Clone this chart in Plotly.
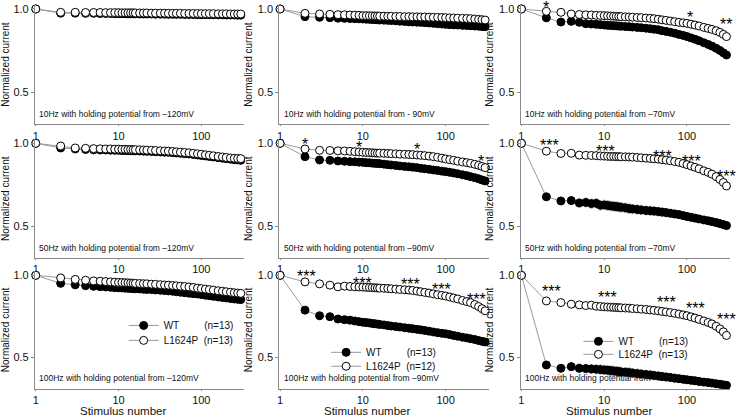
import math
import plotly.graph_objects as go

# ---------------- data ----------------
stimulus = [1, 2, 3, 4, 5, 6, 7, 8, 9, 10, 11, 12, 13, 14, 15, 16, 18, 20, 22, 25, 28, 32, 36, 40,
            45, 50, 56, 63, 71, 80, 90, 100, 112, 125, 140, 160, 180, 200, 225, 250, 275, 300]

panel_titles = [
    "10Hz with holding potential from \u2013120mV",
    "10Hz with holding potential from - 90mV",
    "10Hz with holding potential from \u201370mV",
    "50Hz with holding potential from \u2013120mV",
    "50Hz with holding potential from \u201390mV",
    "50Hz with holding potential from \u201370mV",
    "100Hz with holding potential from \u2013120mV",
    "100Hz with holding potential from \u201390mV",
    "100Hz with holding potential from \u201370mV",
]

wt_10_120 = [1.00, 0.975, 0.975, 0.974, 0.974, 0.973, 0.973, 0.973, 0.972, 0.972, 0.972, 0.972, 0.971, 0.971, 0.971, 0.971, 0.970, 0.970, 0.970, 0.970, 0.969, 0.969, 0.969, 0.968, 0.968, 0.968, 0.968, 0.967, 0.967, 0.967, 0.966, 0.966, 0.966, 0.966, 0.965, 0.965, 0.965, 0.964, 0.964, 0.964, 0.963, 0.963]
mu_10_120 = [1.00, 0.980, 0.980, 0.979, 0.979, 0.979, 0.978, 0.978, 0.978, 0.978, 0.977, 0.977, 0.977, 0.977, 0.977, 0.976, 0.976, 0.976, 0.976, 0.975, 0.975, 0.975, 0.975, 0.974, 0.974, 0.974, 0.974, 0.973, 0.973, 0.973, 0.973, 0.972, 0.972, 0.972, 0.972, 0.971, 0.971, 0.971, 0.970, 0.970, 0.970, 0.970]

wt_10_90 = [1.00, 0.954, 0.950, 0.948, 0.945, 0.944, 0.943, 0.942, 0.941, 0.940, 0.939, 0.938, 0.937, 0.936, 0.935, 0.934, 0.933, 0.932, 0.931, 0.929, 0.927, 0.925, 0.923, 0.922, 0.921, 0.920, 0.918, 0.916, 0.914, 0.912, 0.910, 0.908, 0.906, 0.905, 0.904, 0.902, 0.901, 0.900, 0.898, 0.897, 0.895, 0.894]
mu_10_90 = [1.00, 0.974, 0.970, 0.968, 0.966, 0.965, 0.964, 0.963, 0.962, 0.960, 0.960, 0.959, 0.959, 0.958, 0.958, 0.957, 0.957, 0.956, 0.956, 0.955, 0.955, 0.954, 0.954, 0.953, 0.953, 0.952, 0.952, 0.951, 0.950, 0.950, 0.949, 0.948, 0.947, 0.946, 0.945, 0.944, 0.943, 0.942, 0.940, 0.938, 0.936, 0.934]

wt_10_70 = [1.00, 0.947, 0.922, 0.926, 0.920, 0.912, 0.910, 0.908, 0.906, 0.904, 0.902, 0.901, 0.900, 0.899, 0.898, 0.897, 0.895, 0.894, 0.892, 0.890, 0.888, 0.885, 0.882, 0.879, 0.876, 0.870, 0.866, 0.861, 0.855, 0.848, 0.842, 0.835, 0.827, 0.819, 0.810, 0.798, 0.788, 0.778, 0.765, 0.752, 0.738, 0.725]
mu_10_70 = [1.00, 0.986, 0.980, 0.970, 0.967, 0.965, 0.964, 0.962, 0.961, 0.960, 0.959, 0.958, 0.957, 0.956, 0.955, 0.954, 0.953, 0.952, 0.951, 0.949, 0.948, 0.946, 0.944, 0.942, 0.939, 0.935, 0.932, 0.928, 0.924, 0.920, 0.917, 0.914, 0.909, 0.904, 0.898, 0.890, 0.884, 0.878, 0.870, 0.860, 0.848, 0.835]

wt_50_120 = [1.00, 0.972, 0.966, 0.963, 0.961, 0.960, 0.960, 0.959, 0.958, 0.958, 0.957, 0.957, 0.956, 0.956, 0.955, 0.955, 0.954, 0.953, 0.952, 0.951, 0.950, 0.948, 0.947, 0.946, 0.944, 0.942, 0.940, 0.938, 0.936, 0.933, 0.930, 0.927, 0.924, 0.921, 0.918, 0.914, 0.911, 0.908, 0.905, 0.902, 0.900, 0.898]
mu_50_120 = [1.00, 0.984, 0.972, 0.970, 0.968, 0.967, 0.966, 0.966, 0.965, 0.965, 0.964, 0.964, 0.963, 0.963, 0.962, 0.962, 0.961, 0.960, 0.959, 0.958, 0.957, 0.955, 0.954, 0.953, 0.951, 0.949, 0.947, 0.945, 0.943, 0.940, 0.937, 0.934, 0.931, 0.928, 0.925, 0.921, 0.918, 0.915, 0.912, 0.910, 0.909, 0.908]

wt_50_90 = [1.00, 0.920, 0.900, 0.898, 0.894, 0.892, 0.890, 0.889, 0.887, 0.886, 0.884, 0.883, 0.881, 0.880, 0.879, 0.878, 0.875, 0.872, 0.870, 0.867, 0.864, 0.861, 0.859, 0.857, 0.854, 0.850, 0.847, 0.844, 0.840, 0.837, 0.833, 0.830, 0.826, 0.822, 0.817, 0.811, 0.806, 0.800, 0.794, 0.787, 0.780, 0.774]
mu_50_90 = [1.00, 0.966, 0.958, 0.957, 0.955, 0.954, 0.952, 0.950, 0.948, 0.946, 0.945, 0.944, 0.943, 0.942, 0.941, 0.941, 0.940, 0.939, 0.938, 0.937, 0.935, 0.934, 0.933, 0.932, 0.930, 0.928, 0.926, 0.923, 0.920, 0.916, 0.911, 0.906, 0.902, 0.898, 0.893, 0.888, 0.884, 0.880, 0.874, 0.868, 0.861, 0.854]

wt_50_70 = [1.00, 0.679, 0.654, 0.656, 0.642, 0.645, 0.638, 0.640, 0.628, 0.630, 0.627, 0.624, 0.622, 0.620, 0.618, 0.616, 0.613, 0.608, 0.606, 0.603, 0.600, 0.597, 0.595, 0.593, 0.590, 0.587, 0.584, 0.580, 0.576, 0.572, 0.566, 0.561, 0.556, 0.551, 0.546, 0.540, 0.535, 0.530, 0.524, 0.518, 0.512, 0.506]
mu_50_70 = [1.00, 0.953, 0.939, 0.940, 0.929, 0.928, 0.927, 0.926, 0.924, 0.923, 0.922, 0.921, 0.921, 0.920, 0.920, 0.919, 0.919, 0.918, 0.917, 0.915, 0.913, 0.911, 0.909, 0.907, 0.905, 0.902, 0.899, 0.895, 0.891, 0.886, 0.879, 0.872, 0.864, 0.856, 0.847, 0.835, 0.826, 0.815, 0.800, 0.783, 0.765, 0.744]

wt_100_120 = [1.00, 0.951, 0.942, 0.937, 0.933, 0.931, 0.929, 0.927, 0.925, 0.924, 0.923, 0.922, 0.921, 0.920, 0.919, 0.918, 0.917, 0.915, 0.914, 0.913, 0.911, 0.909, 0.907, 0.905, 0.903, 0.900, 0.897, 0.894, 0.891, 0.888, 0.886, 0.883, 0.879, 0.876, 0.872, 0.868, 0.865, 0.862, 0.859, 0.856, 0.854, 0.852]
mu_100_120 = [1.00, 0.984, 0.975, 0.970, 0.966, 0.964, 0.962, 0.960, 0.958, 0.957, 0.956, 0.955, 0.954, 0.953, 0.952, 0.951, 0.950, 0.949, 0.948, 0.946, 0.945, 0.943, 0.941, 0.940, 0.938, 0.936, 0.934, 0.932, 0.929, 0.926, 0.922, 0.919, 0.916, 0.913, 0.910, 0.906, 0.903, 0.900, 0.897, 0.894, 0.892, 0.890]

wt_100_90 = [1.00, 0.788, 0.754, 0.748, 0.734, 0.730, 0.727, 0.722, 0.718, 0.714, 0.712, 0.710, 0.707, 0.705, 0.703, 0.701, 0.698, 0.694, 0.691, 0.688, 0.685, 0.681, 0.678, 0.675, 0.671, 0.668, 0.664, 0.660, 0.655, 0.651, 0.647, 0.644, 0.639, 0.634, 0.629, 0.623, 0.619, 0.614, 0.609, 0.603, 0.598, 0.594]
mu_100_90 = [1.00, 0.960, 0.948, 0.940, 0.930, 0.934, 0.932, 0.930, 0.929, 0.928, 0.927, 0.926, 0.925, 0.924, 0.923, 0.922, 0.921, 0.920, 0.918, 0.916, 0.914, 0.912, 0.910, 0.908, 0.904, 0.900, 0.896, 0.892, 0.887, 0.882, 0.878, 0.874, 0.868, 0.862, 0.856, 0.847, 0.840, 0.834, 0.822, 0.810, 0.797, 0.784]

wt_100_70 = [1.00, 0.454, 0.434, 0.444, 0.434, 0.432, 0.430, 0.428, 0.426, 0.424, 0.422, 0.420, 0.418, 0.416, 0.414, 0.412, 0.410, 0.408, 0.405, 0.402, 0.399, 0.396, 0.393, 0.390, 0.387, 0.384, 0.381, 0.378, 0.374, 0.371, 0.367, 0.364, 0.361, 0.358, 0.354, 0.350, 0.347, 0.344, 0.340, 0.337, 0.333, 0.330]
mu_100_70 = [1.00, 0.844, 0.834, 0.824, 0.820, 0.816, 0.818, 0.812, 0.810, 0.808, 0.807, 0.806, 0.805, 0.804, 0.803, 0.802, 0.801, 0.800, 0.798, 0.796, 0.794, 0.792, 0.789, 0.787, 0.784, 0.780, 0.777, 0.773, 0.769, 0.764, 0.759, 0.754, 0.747, 0.740, 0.732, 0.722, 0.713, 0.704, 0.690, 0.674, 0.656, 0.634]

# SEM estimates (three levels read from the error-bar spread)
sem_small = [0, 0.004, 0.004, 0.004, 0.005, 0.005, 0.005, 0.005, 0.005, 0.005, 0.005, 0.005, 0.006, 0.006, 0.006, 0.006, 0.006, 0.006, 0.006, 0.007, 0.007, 0.007, 0.007, 0.007, 0.007, 0.008, 0.008, 0.008, 0.008, 0.008, 0.009, 0.009, 0.009, 0.009, 0.010, 0.010, 0.010, 0.010, 0.011, 0.011, 0.011, 0.012]
sem_mid = [0, 0.006, 0.007, 0.007, 0.008, 0.008, 0.008, 0.009, 0.009, 0.009, 0.010, 0.010, 0.010, 0.010, 0.011, 0.011, 0.011, 0.012, 0.012, 0.012, 0.013, 0.013, 0.013, 0.014, 0.014, 0.014, 0.015, 0.015, 0.015, 0.016, 0.016, 0.016, 0.017, 0.017, 0.017, 0.018, 0.018, 0.018, 0.019, 0.019, 0.019, 0.020]
sem_large = [0, 0.018, 0.022, 0.024, 0.025, 0.026, 0.027, 0.027, 0.028, 0.028, 0.028, 0.028, 0.028, 0.028, 0.028, 0.028, 0.028, 0.028, 0.027, 0.027, 0.027, 0.026, 0.026, 0.026, 0.025, 0.025, 0.025, 0.024, 0.024, 0.024, 0.023, 0.023, 0.023, 0.022, 0.022, 0.022, 0.021, 0.021, 0.021, 0.020, 0.020, 0.020]

wt_series = [wt_10_120, wt_10_90, wt_10_70, wt_50_120, wt_50_90, wt_50_70, wt_100_120, wt_100_90, wt_100_70]
mu_series = [mu_10_120, mu_10_90, mu_10_70, mu_50_120, mu_50_90, mu_50_70, mu_100_120, mu_100_90, mu_100_70]
wt_sem = [sem_small, sem_small, sem_small, sem_small, sem_small, sem_large, sem_small, sem_small, sem_large]
mu_sem = [sem_small, sem_small, sem_mid, sem_small, sem_small, sem_mid, sem_small, sem_mid, sem_mid]

# legend n values for the bottom row
n_wt = ["13", "13", "13"]
n_mu = ["13", "12", "13"]

# significance marks: panel index, stimulus number, current level, label
sig_panel = [2, 2, 2, 4, 4, 4, 4, 5, 5, 5, 5, 5, 7, 7, 7, 7, 7, 8, 8, 8, 8, 8]
sig_stim = [2, 110, 295, 2, 9, 45, 270, 2.2, 10.5, 51, 112, 300, 2.1, 10, 38, 90, 235, 2.3, 11, 56, 128, 300]
sig_level = [0.996, 0.94, 0.893, 0.982, 0.962, 0.952, 0.88, 0.976, 0.94, 0.91, 0.88, 0.786,
             0.978, 0.935, 0.93, 0.9, 0.84, 0.887, 0.85, 0.82, 0.786, 0.72]
sig_text = ["*", "*", "**", "*", "*", "*", "*", "***", "***", "***", "***", "***",
            "***", "***", "***", "***", "***", "***", "***", "***", "***", "***"]

# ---------------- layout geometry ----------------
W, H = 740, 419
col_px = [(33, 243), (278, 488), (520, 730)]
row_px = [(2.8, 123), (137.8, 257.5), (270.5, 388.5)]

FONT = "Liberation Sans, Arial, Helvetica, sans-serif"
AX = "#8a8a8a"

fig = go.Figure()
layout = dict(
    width=W, height=H, margin=dict(l=0, r=0, t=0, b=0),
    paper_bgcolor="white", plot_bgcolor="white",
    font=dict(family=FONT, size=11, color="#111"),
    showlegend=True, hovermode=False,
)
annotations = []

for k in range(9):
    r, c = divmod(k, 3)
    sfx = "" if k == 0 else str(k + 1)
    xa, ya = "x" + sfx, "y" + sfx
    x0, x1 = col_px[c]
    y0, y1 = row_px[r]
    layout["xaxis" + sfx] = dict(
        type="log", range=[-0.01, 2.52], domain=[x0 / W, x1 / W], anchor=ya,
        tickvals=[1, 10, 100], ticktext=["1", "10", "100"],
        ticks="outside", ticklen=1, tickcolor=AX, showline=True, linecolor=AX,
        linewidth=1, showgrid=False, zeroline=False, tickfont=dict(size=11),
    )
    layout["yaxis" + sfx] = dict(
        range=[0.31, 1.025], domain=[1 - y1 / H, 1 - y0 / H], anchor=xa,
        tickvals=[0.5, 1.0], ticktext=["0.5", "1.0"],
        ticks="outside", ticklen=3, tickcolor=AX, showline=True, linecolor=AX,
        linewidth=1, showgrid=False, zeroline=False, tickfont=dict(size=11),
        title=dict(text="Normalized current", font=dict(size=10), standoff=3),
    )
    leg_wt = leg_mu = None
    if r == 2:
        leg_wt = "legend" if c == 0 else "legend" + str(2 * c + 1)
        leg_mu = "legend" + str(2 * c + 2)
    common = dict(x=stimulus, xaxis=xa, yaxis=ya, mode="lines+markers", cliponaxis=False,
                  line=dict(color="#9a9a9a", width=1))
    fig.add_trace(go.Scatter(
        y=wt_series[k], name="WT" + "\u00a0" * 9 + "(n=" + (n_wt[c] if r == 2 else "") + ")",
        marker=dict(symbol="circle", size=8, color="black", line=dict(color="black", width=1)),
        error_y=dict(type="data", array=wt_sem[k], color="#9a9a9a", thickness=0.8, width=1.5),
        showlegend=(r == 2), legend=leg_wt, **common))
    fig.add_trace(go.Scatter(
        y=mu_series[k], name="L1624P" + "\u00a0" * 2 + "(n=" + (n_mu[c] if r == 2 else "") + ")",
        marker=dict(symbol="circle", size=8, color="white", line=dict(color="black", width=1)),
        error_y=dict(type="data", array=mu_sem[k], color="#9a9a9a", thickness=0.8, width=1.5),
        showlegend=(r == 2), legend=leg_mu, **common))
    annotations.append(dict(
        text=panel_titles[k], xref=xa + " domain", yref=ya + " domain", x=0.012, y=0.03,
        xanchor="left", yanchor="bottom", showarrow=False, font=dict(size=8.5, color="#111")))
    if r == 2:
        annotations.append(dict(
            text="Stimulus number", xref=xa + " domain", yref="paper", x=0.42, y=0,
            xanchor="center", yanchor="bottom", showarrow=False, font=dict(size=11.5, color="#111")))

for p, s, lv, t in zip(sig_panel, sig_stim, sig_level, sig_text):
    sfx = "" if p == 0 else str(p + 1)
    annotations.append(dict(
        text=t, xref="x" + sfx, yref="y" + sfx, x=math.log10(s), y=lv, xanchor="center",
        yanchor="middle", yshift=2, showarrow=False,
        font=dict(family="Liberation Sans, Arial", size=16, color="black")))

# one legend per entry so rows can sit closer than Plotly's default spacing
leg_x = [122, 325, 578]
leg_y = [(325, 340), (352, 366), (341, 354)]
for c in range(3):
    for j in range(2):
        idx = 2 * c + j + 1
        key = "legend" if idx == 1 else "legend" + str(idx)
        layout[key] = dict(x=leg_x[c] / W, y=1 - leg_y[c][j] / H, xanchor="left", yanchor="middle",
                           bgcolor="rgba(0,0,0,0)", font=dict(size=10, color="#111"),
                           itemwidth=30, tracegroupgap=0)

layout["annotations"] = annotations
fig.update_layout(**layout)
fig.write_html("out.html", config={"displayModeBar": False},
               post_script="document.body.style.margin='0';")
